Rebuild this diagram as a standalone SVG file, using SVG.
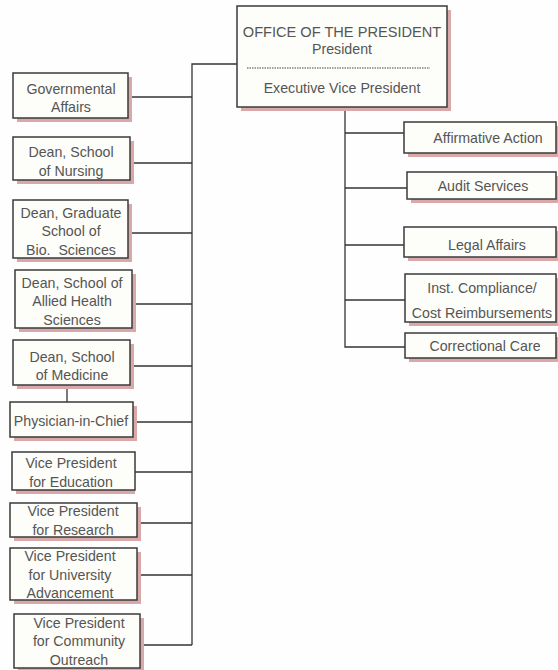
<svg xmlns="http://www.w3.org/2000/svg" width="558" height="670" viewBox="0 0 558 670">
<style>
.bx{fill:#fdfdf9;stroke:#3a3a3a;stroke-width:1.5}
.sh{fill:#d9a9aa}
.t{font-family:"Liberation Sans",Arial,sans-serif;font-size:14.2px;fill:#555;text-anchor:middle}
.c{fill:none;stroke:#333;stroke-width:1.3}
</style>
<rect width="558" height="670" fill="#fefefe"/>
<g id="connectors">
<polyline class="c" points="237,64 192,64 192,645"/>
<line class="c" x1="130" y1="97" x2="192" y2="97"/>
<line class="c" x1="130" y1="163" x2="192" y2="163"/>
<line class="c" x1="128" y1="233" x2="192" y2="233"/>
<line class="c" x1="132" y1="304" x2="192" y2="304"/>
<line class="c" x1="130" y1="366" x2="192" y2="366"/>
<line class="c" x1="67" y1="385" x2="67" y2="402"/>
<line class="c" x1="133" y1="422" x2="192" y2="422"/>
<line class="c" x1="135" y1="472" x2="192" y2="472"/>
<line class="c" x1="137" y1="523" x2="192" y2="523"/>
<line class="c" x1="137" y1="575" x2="192" y2="575"/>
<line class="c" x1="140" y1="645" x2="192" y2="645"/>
<polyline class="c" points="345,107 345,347 405,347"/>
<line class="c" x1="345" y1="133" x2="404" y2="133"/>
<line class="c" x1="345" y1="188" x2="407" y2="188"/>
<line class="c" x1="345" y1="245" x2="404" y2="245"/>
<line class="c" x1="345" y1="300" x2="405" y2="300"/>
</g>
<g id="president">
<rect class="sh" x="241" y="10" width="210" height="101"/>
<rect class="bx" x="237" y="6" width="210" height="101"/>
<line x1="247" y1="68" x2="430" y2="68" stroke="#444" stroke-width="1.2" stroke-dasharray="1.5,1"/>
<text class="t" x="342" y="37" style="font-size:14.6px">OFFICE OF THE PRESIDENT</text>
<text class="t" x="342" y="54">President</text>
<text class="t" x="342" y="93">Executive Vice President</text>
</g>
<g id="gov">
<rect class="sh" x="17" y="77" width="115" height="45"/>
<rect class="bx" x="13" y="73" width="115" height="45"/>
<text class="t" x="71" y="94">Governmental</text>
<text class="t" x="71" y="112">Affairs</text>
</g>
<g id="nursing">
<rect class="sh" x="17" y="141" width="117" height="43"/>
<rect class="bx" x="13" y="137" width="117" height="43"/>
<text class="t" x="71" y="157">Dean, School</text>
<text class="t" x="71" y="176">of Nursing</text>
</g>
<g id="graduate">
<rect class="sh" x="17" y="204" width="115" height="58"/>
<rect class="bx" x="13" y="200" width="115" height="58"/>
<text class="t" x="71" y="218">Dean, Graduate</text>
<text class="t" x="71" y="236">School of</text>
<text class="t" x="71" y="255" xml:space="preserve">Bio.  Sciences</text>
</g>
<g id="allied">
<rect class="sh" x="19" y="274" width="117" height="58"/>
<rect class="bx" x="15" y="270" width="117" height="58"/>
<text class="t" x="72" y="288">Dean, School of</text>
<text class="t" x="72" y="306">Allied Health</text>
<text class="t" x="72" y="325">Sciences</text>
</g>
<g id="medicine">
<rect class="sh" x="17" y="344" width="117" height="45"/>
<rect class="bx" x="13" y="340" width="117" height="45"/>
<text class="t" x="72" y="362">Dean, School</text>
<text class="t" x="72" y="380">of Medicine</text>
</g>
<g id="physician">
<rect class="sh" x="14" y="406" width="123" height="35"/>
<rect class="bx" x="10" y="402" width="123" height="35"/>
<text class="t" x="71" y="426">Physician-in-Chief</text>
</g>
<g id="vp-education">
<rect class="sh" x="16" y="456" width="119" height="38"/>
<rect class="bx" x="12" y="452" width="123" height="38"/>
<text class="t" x="71" y="468">Vice President</text>
<text class="t" x="71" y="487">for Education</text>
</g>
<g id="vp-research">
<rect class="sh" x="14" y="507" width="127" height="34"/>
<rect class="bx" x="10" y="503" width="127" height="34"/>
<text class="t" x="73" y="516">Vice President</text>
<text class="t" x="73" y="535">for Research</text>
</g>
<g id="vp-advancement">
<rect class="sh" x="14" y="552" width="127" height="52"/>
<rect class="bx" x="10" y="548" width="127" height="52"/>
<text class="t" x="70" y="561">Vice President</text>
<text class="t" x="70" y="580">for University</text>
<text class="t" x="70" y="598">Advancement</text>
</g>
<g id="vp-outreach">
<rect class="sh" x="18" y="618" width="126" height="54"/>
<rect class="bx" x="14" y="614" width="126" height="54"/>
<text class="t" x="79" y="628">Vice President</text>
<text class="t" x="79" y="646">for Community</text>
<text class="t" x="79" y="665">Outreach</text>
</g>
<g id="affirmative">
<rect class="sh" x="408" y="126" width="152" height="31"/>
<rect class="bx" x="404" y="122" width="152" height="31"/>
<text class="t" x="488" y="143">Affirmative Action</text>
</g>
<g id="audit">
<rect class="sh" x="411" y="176" width="149" height="27"/>
<rect class="bx" x="407" y="172" width="149" height="27"/>
<text class="t" x="483" y="191">Audit Services</text>
</g>
<g id="legal">
<rect class="sh" x="408" y="231" width="152" height="30"/>
<rect class="bx" x="404" y="227" width="152" height="30"/>
<text class="t" x="487" y="250">Legal Affairs</text>
</g>
<g id="compliance">
<rect class="sh" x="409" y="278" width="151" height="48"/>
<rect class="bx" x="405" y="274" width="151" height="48"/>
<text class="t" x="482" y="293">Inst. Compliance/</text>
<text class="t" x="482" y="318">Cost Reimbursements</text>
</g>
<g id="correctional">
<rect class="sh" x="409" y="337" width="151" height="25"/>
<rect class="bx" x="405" y="333" width="151" height="25"/>
<text class="t" x="485" y="351">Correctional Care</text>
</g>
</svg>
